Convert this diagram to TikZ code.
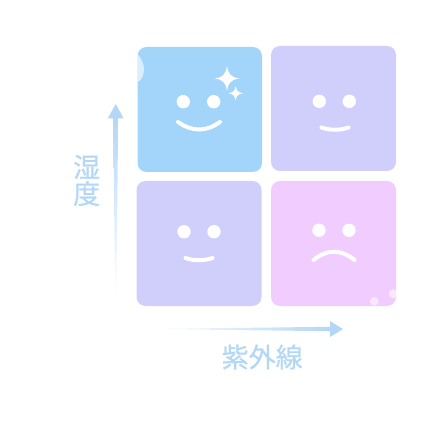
\documentclass[tikz,border=0pt]{standalone}
\usepackage{fontspec}
\newfontfamily\cjk[FakeBold=0.7]{Noto Sans CJK JP}
\definecolor{skyCard}{HTML}{A3D5FB}
\definecolor{violetCard}{HTML}{D0CFFC}
\definecolor{pinkCard}{HTML}{F0CDFE}
\definecolor{axisBlue}{HTML}{B3D7F7}
\tikzset{
  card/.style={rounded corners=9pt,fill=#1},
  eye/.style={fill=white},
  mouth/.style={draw=white,line width=4pt,line cap=round},
  sparkle/.style={fill=white},
  axisLabel/.style={text=axisBlue,font=\cjk\fontsize{27}{28}\selectfont,inner sep=0pt,align=center}
}
\begin{document}
\begin{tikzpicture}[x=1pt,y=-1pt]
    \useasboundingbox (0,0) rectangle (445,441);

    \coordinate (skyCorner) at (137.5,47);
    \coordinate (violetTopCorner) at (271,46);
    \coordinate (violetLowCorner) at (136.5,181);
    \coordinate (pinkCorner) at (271,181);

    \path[card=skyCard] (skyCorner) rectangle ++(124.5,125);
    \path[card=violetCard] (violetTopCorner) rectangle ++(125,125);
    \path[card=violetCard] (violetLowCorner) rectangle ++(125,125);
    \path[card=pinkCard] (pinkCorner) rectangle ++(125,125);

    \begin{scope}
    \clip[rounded corners=9pt] (skyCorner) rectangle ++(124.5,125);
    \fill[white,opacity=0.6] (137.5,54) .. controls (141,58) and (144,64) .. (144,69) .. controls (144,76) and (141,81) .. (137.5,82) -- cycle;
    \end{scope}

    \fill[eye] (183.3,101.7) circle (6.7);
    \fill[eye] (213.7,101.7) circle (6.7);
    \draw[mouth] (178,122) .. controls (192,132) and (206,132) .. (220,122);
    \fill[sparkle] (227,65.5) .. controls (228,74) and (231,77.5) .. (239.5,78.5) .. controls (231,79.5) and (228,83) .. (227,91) .. controls (226,83) and (223,79.5) .. (214.5,78.5) .. controls (223,77.5) and (226,74) .. cycle;
    \fill[sparkle] (235.7,86) .. controls (236.3,90.5) and (238,92.5) .. (243,93.3) .. controls (238,94.1) and (236.3,96) .. (235.7,100.5) .. controls (235.1,96) and (233.4,94.1) .. (228.4,93.3) .. controls (233.4,92.5) and (235.1,90.5) .. cycle;

    \fill[eye] (319.3,101.3) circle (6.7);
    \fill[eye] (349.3,101.3) circle (6.7);
    \draw[mouth] (321.5,127.5) .. controls (330,130.5) and (340,130.5) .. (348.5,127.5);

    \fill[eye] (184,231.7) circle (6.7);
    \fill[eye] (214,231.7) circle (6.7);
    \draw[mouth] (185.5,258) .. controls (194,261) and (204,261) .. (212.5,258);

    \fill[eye] (319,230.3) circle (6.7);
    \fill[eye] (349,230.3) circle (6.7);
    \draw[mouth] (313.5,260) .. controls (327,249) and (341,249) .. (354.5,260);

    \begin{scope}
    \clip[rounded corners=9pt] (pinkCorner) rectangle ++(125,125);
    \fill[white,opacity=0.55] (374.3,301.3) circle (4.3);
    \fill[white,opacity=0.55] (393.3,293.7) circle (4.5);
    \end{scope}

    \coordinate (humidityTip) at (115.7,104);
    \coordinate (humidityTail) at (115.7,292);
    \coordinate (uvTip) at (343,329);
    \coordinate (uvTail) at (146,329);

    \path[top color=axisBlue,bottom color=white] (113.2,117) -- (118.2,117) -- (116.3,296) -- (115.1,296) -- cycle;
    \fill[axisBlue] (humidityTip) -- (123.7,118.5) -- (107.7,118.5) -- cycle;
    \path[left color=white,right color=axisBlue] (uvTail) -- (331,326.8) -- (331,331.2) -- cycle;
    \fill[axisBlue] (uvTip) -- (330,337) -- (330,321) -- cycle;

    \node[axisLabel] (humidityLabel) at (86.7,180.5) {湿\\[-1.5pt]度};
    \node[axisLabel] (uvLabel) at (262.2,357) {紫外線};
\end{tikzpicture}
\end{document}
